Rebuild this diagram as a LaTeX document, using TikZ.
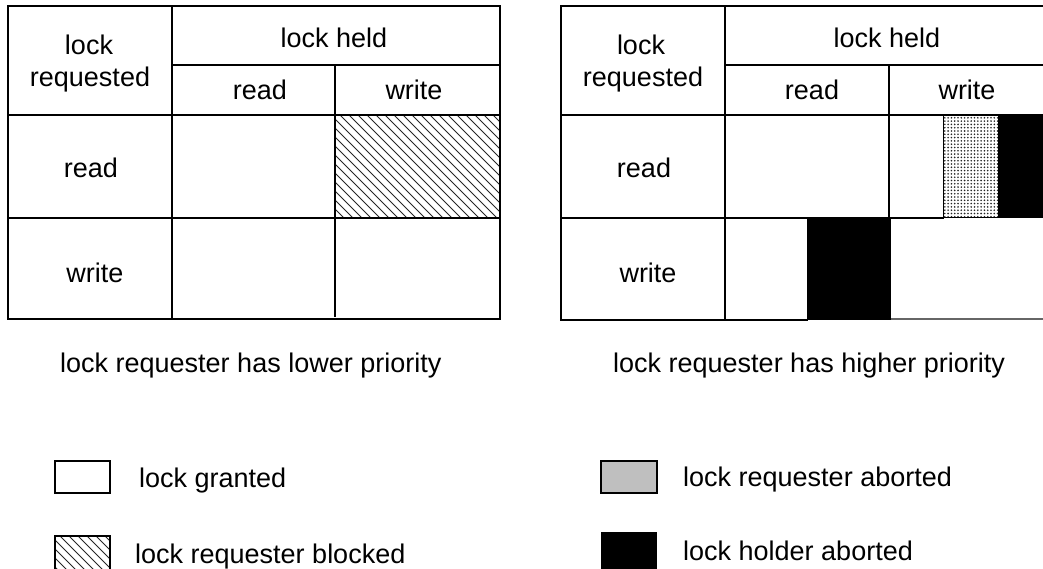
\documentclass[tikz,border=0pt]{standalone}
\usepackage{fontspec}
\setmainfont{Liberation Sans}

% diagonal hatching clipped to a rectangle: x1, y1, x2, y2
\newcommand\hatchfill[4]{%
  \begin{scope}
    \clip (#1,#2) rectangle (#3,#4);
    \foreach \k in {-130,-121,...,180}
      \draw[hatchline] (#1+\k,#2) -- ++(200,200);
  \end{scope}}

% fine dot screen clipped to a rectangle: x1, y1, x2, y2
\newcommand\dotscreen[4]{%
  \begin{scope}
    \clip (#1,#2) rectangle (#3,#4);
    \fill[white] (#1,#2) rectangle (#3,#4);
    \foreach \i in {0,...,17}
      \foreach \j in {0,...,31}
        \fill[black!85] (#1+1.8+\i*3.3,#2+1.8+\j*3.3) circle (0.9);
  \end{scope}}

\begin{document}
\begin{tikzpicture}[x=1pt,y=-1pt,
  grid/.style={line width=2.4pt, line cap=rect},
  faint/.style={line width=1.2pt, black!60},
  hatchline/.style={line width=0.9pt, black!85},
  lbl/.style={font=\fontsize{27}{31}\selectfont, inner sep=0pt, anchor=base},
  lbll/.style={lbl, anchor=base west},
  keybox/.style={line width=2.2pt}]

\useasboundingbox (0,0) rectangle (1043,569);
\clip (0,0) rectangle (1043,569);

% ---------- left matrix: requester has lower priority ----------
\hatchfill{335}{115}{500}{218}
\draw[grid] (8,6) rectangle (500,319);
\draw[grid] (172,6) -- (172,319);
\draw[grid] (172,65) -- (500,65);
\draw[grid] (335,65) -- (335,316);
\draw[grid] (8,115) -- (500,115);
\draw[grid] (8,218) -- (500,218);

\node[lbl] (l-lock)  at (89,55)  {lock};
\node[lbl] (l-req)   at (90,87)  {requested};
\node[lbl] (l-held)  at (334,48) {lock held};
\node[lbl] (l-hr)    at (260,100) {read};
\node[lbl] (l-hw)    at (414,100) {write};
\node[lbl] (l-rr)    at (91,178) {read};
\node[lbl] (l-rw)    at (95,282) {write};

% ---------- right matrix: requester has higher priority ----------
\fill[black] (807,218) rectangle (891,320);
\fill[black] (998,115) rectangle (1050,218);
\dotscreen{943}{116}{998}{218}
\draw[line width=1pt] (943,116) rectangle (998,218);
\draw[grid] (561,6) -- (1050,6);
\draw[grid] (561,6) -- (561,320);
\draw[grid] (561,320) -- (807,320);
\draw[faint] (891,319) -- (1050,319);
\draw[grid] (725,6) -- (725,320);
\draw[grid] (725,65) -- (1050,65);
\draw[grid] (889,65) -- (889,218);
\draw[grid] (561,115) -- (1050,115);
\draw[grid] (561,218) -- (943,218);

\node[lbl] (r-lock)  at (641,55)  {lock};
\node[lbl] (r-req)   at (643,87)  {requested};
\node[lbl] (r-held)  at (887,48)  {lock held};
\node[lbl] (r-hr)    at (812,100) {read};
\node[lbl] (r-hw)    at (967,100) {write};
\node[lbl] (r-rr)    at (644,178) {read};
\node[lbl] (r-rw)    at (648,282) {write};

% ---------- captions ----------
\node[lbll] (cap-low)  at (60,372)  {lock requester has lower priority};
\node[lbll] (cap-high) at (613,372) {lock requester has higher priority};

% ---------- legend ----------
\draw[keybox] (55,461) rectangle (110,493);
\hatchfill{55}{536}{110}{575}
\draw[keybox] (55,536) rectangle (110,575);
\fill[black!25] (601,461) rectangle (657,493);
\draw[keybox] (601,461) rectangle (657,493);
\fill[black] (601,532) rectangle (657,575);

\node[lbll] (k-grant) at (139,487) {lock granted};
\node[lbll] (k-block) at (135,563) {lock requester blocked};
\node[lbll] (k-rab)   at (683,486) {lock requester aborted};
\node[lbll] (k-hab)   at (683,560) {lock holder aborted};
\end{tikzpicture}
\end{document}
